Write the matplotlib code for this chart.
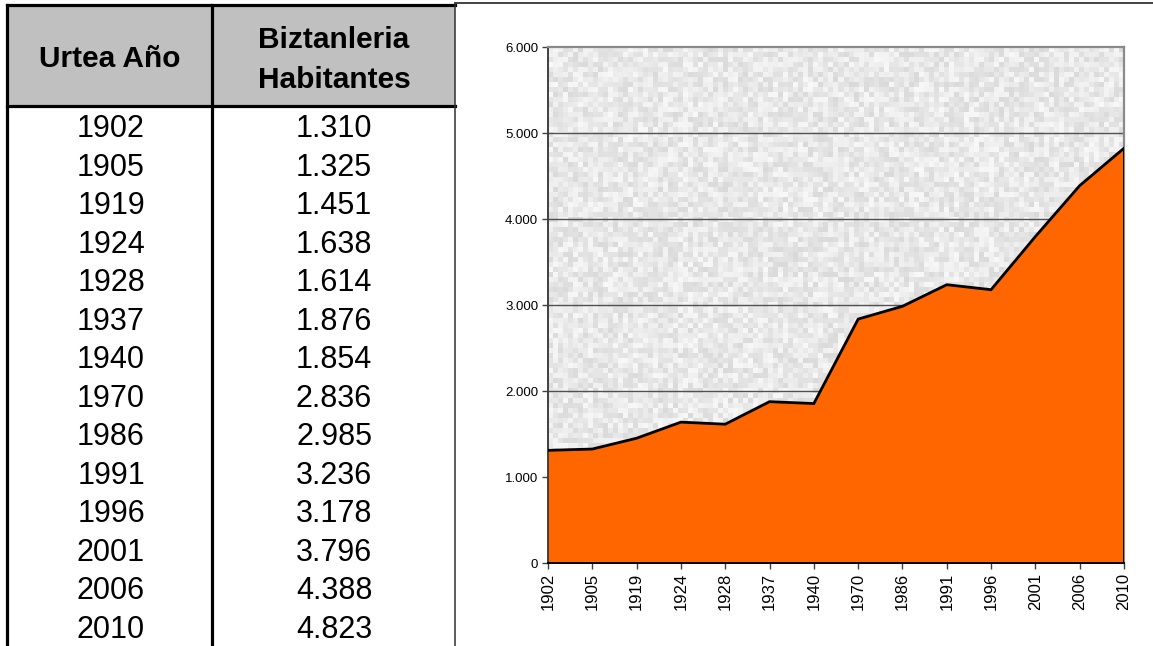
import numpy as np
import matplotlib
matplotlib.use("Agg")
import matplotlib.pyplot as plt
from matplotlib.ticker import FuncFormatter

years = ["1902", "1905", "1919", "1924", "1928", "1937", "1940",
         "1970", "1986", "1991", "1996", "2001", "2006", "2010"]
population = [1310, 1325, 1451, 1638, 1614, 1876, 1854,
              2836, 2985, 3236, 3178, 3796, 4388, 4823]
header_col1 = "Urtea Año"
header_col2 = ["Biztanleria", "Habitantes"]
y_ticks = [0, 1000, 2000, 3000, 4000, 5000, 6000]

W, H = 1153, 646
FONT = "Liberation Sans"


def fmt_thousands(v):
    return f"{int(v):,}".replace(",", ".")


fig = plt.figure(figsize=(W / 100, H / 100), dpi=100)
fig.patch.set_facecolor("white")

# ---- table drawn in pixel coordinates ----
tab = fig.add_axes([0, 0, 1, 1])
tab.set_xlim(0, W)
tab.set_ylim(H, 0)
tab.axis("off")

left, mid, right = 6.5, 212, 455
top, hdr_bottom = 5, 106
tab.add_patch(plt.Rectangle((left, top), right - left, hdr_bottom - top,
                            facecolor="#c0c0c0", edgecolor="none", zorder=1))
tab.plot([left, right], [top, top], color="black", lw=2.3, zorder=3, solid_capstyle="projecting")
tab.plot([right, W], [3, 3], color="#404040", lw=1.4, zorder=3)
tab.plot([left, right], [hdr_bottom, hdr_bottom], color="black", lw=2.3, zorder=3)
tab.plot([left, left], [top, H], color="black", lw=2.3, zorder=3)
tab.plot([mid, mid], [top, H], color="black", lw=2.3, zorder=3)
tab.plot([right, right], [top, H], color="#303030", lw=1.1, zorder=3)

c1, c2 = 110, 334
hdr_fs = 21.5
tab.text(c1, 67, header_col1, ha="center", va="baseline", fontsize=hdr_fs,
         fontweight="bold", family=FONT, zorder=4)
for line, base in zip(header_col2, [48, 88]):
    tab.text(c2, base, line, ha="center", va="baseline", fontsize=hdr_fs,
             fontweight="bold", family=FONT, zorder=4)

base0, row_step = 137, 38.54
for i, (yr, pop) in enumerate(zip(years, population)):
    yy = base0 + i * row_step
    tab.text(c1 + 1, yy, yr, ha="center", va="baseline", fontsize=22, family=FONT, zorder=4)
    tab.text(c2, yy, fmt_thousands(pop), ha="center", va="baseline", fontsize=22,
             family=FONT, zorder=4)

# ---- area chart ----
px_l, px_r, px_t, px_b = 548, 1124, 47, 563
ax = fig.add_axes([px_l / W, (H - px_b) / H, (px_r - px_l) / W, (px_b - px_t) / H])
x = np.arange(len(years))
ax.set_xlim(0, len(years) - 1)
ax.set_ylim(0, 6000)

# textured grey backdrop (decorative)
rng = np.random.default_rng(7)
tex = rng.uniform(0.85, 0.97, size=(103, 115))
ax.imshow(tex, cmap="gray", vmin=0, vmax=1, extent=[0, len(years) - 1, 0, 6000],
          aspect="auto", interpolation="nearest", zorder=0)

for yv in y_ticks[1:-1]:
    ax.axhline(yv, color="#505050", lw=1.0, zorder=1)

ax.fill_between(x, population, 0, facecolor="#ff6600", edgecolor="none", zorder=2)
ax.plot(x, population, color="black", lw=2.0, zorder=3, solid_joinstyle="miter")
ax.plot([x[-1], x[-1]], [0, population[-1]], color="black", lw=2.0, zorder=3)
ax.plot([x[0], x[-1]], [0, 0], color="black", lw=2.0, zorder=3)

ax.set_yticks(y_ticks)
ax.yaxis.set_major_formatter(FuncFormatter(lambda v, p: fmt_thousands(v)))
ax.set_xticks(x)
ax.set_xticklabels(years, rotation=90)
for lab in ax.get_yticklabels():
    lab.set_family(FONT)
    lab.set_fontsize(9.5)
for lab in ax.get_xticklabels():
    lab.set_family(FONT)
    lab.set_fontsize(12)
ax.tick_params(axis="both", direction="out", length=4, width=1, color="#404040", pad=3)

for s in ["top", "right"]:
    ax.spines[s].set_color("#8a8a8a")
    ax.spines[s].set_linewidth(1.6)
ax.spines["left"].set_color("#404040")
ax.spines["left"].set_linewidth(1.4)
ax.spines["bottom"].set_color("black")
ax.spines["bottom"].set_linewidth(1.4)

fig.savefig("out.png", dpi=100)
